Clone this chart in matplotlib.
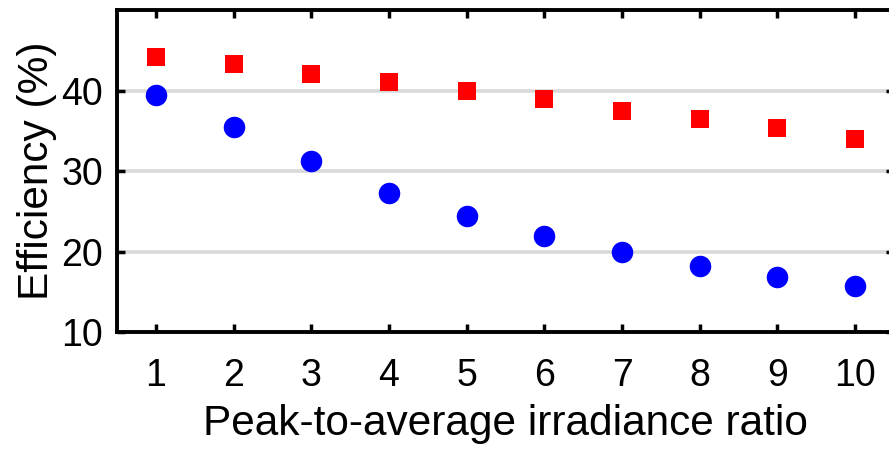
import matplotlib
matplotlib.use("Agg")
import matplotlib.pyplot as plt

plt.rcParams['font.family'] = ['Liberation Sans', 'DejaVu Sans']

# Peak-to-average irradiance ratio
ratio = [1, 2, 3, 4, 5, 6, 7, 8, 9, 10]
# Efficiency (%) of the two cell configurations
eff_red = [44.2, 43.3, 42.1, 41.1, 40.0, 38.9, 37.5, 36.5, 35.3, 34.0]
eff_blue = [39.4, 35.5, 31.2, 27.3, 24.4, 21.9, 19.9, 18.2, 16.8, 15.7]

y_ticks = [10, 20, 30, 40]
x_ticks = ratio

fig = plt.figure(figsize=(8.89, 4.49), dpi=100)
ax = fig.add_axes([0.1316, 0.2606, 0.874, 0.717])

for g in [20, 30, 40]:
    ax.axhline(g, color='#d9d9d9', lw=2.6, zorder=0)

ax.plot(ratio, eff_red, 's', color='#ff0000', ms=12.4, mew=0, zorder=3)
ax.plot(ratio, eff_blue, 'o', color='#0000ff', ms=15.5, mew=0, zorder=3)

ax.set_xlim(0.5, 10.5)
ax.set_ylim(10, 50)
ax.set_xticks(x_ticks)
ax.set_yticks(y_ticks)
ax.tick_params(direction='in', length=6, width=2.5, labelsize=27,
               top=True, right=True)
ax.tick_params(axis='x', pad=19)
ax.tick_params(axis='y', pad=10)
for s in ax.spines.values():
    s.set_linewidth(2.8)

ax.set_xlabel('Peak-to-average irradiance ratio', fontsize=30.5, labelpad=7)
ax.set_ylabel('Efficiency (%)', fontsize=30.5, labelpad=3)

fig.savefig('out.png', dpi=100)
